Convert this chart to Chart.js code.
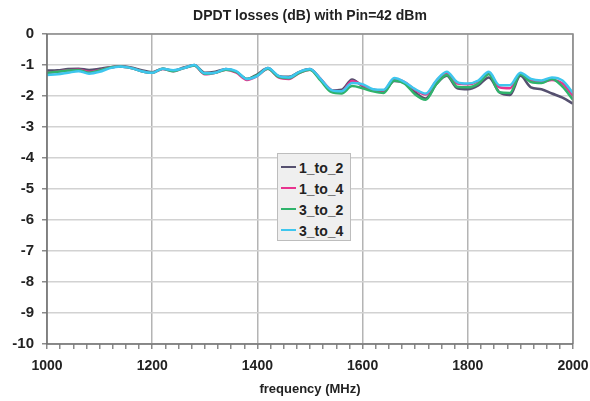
<!DOCTYPE html>
<html>
<head>
<meta charset="utf-8">
<script src="https://cdn.jsdelivr.net/npm/chart.js@4"></script>
<style>
  html, body { margin: 0; padding: 0; background: #fff; }
  #wrap { position: relative; width: 590px; height: 401px; }
  #legend {
    position: absolute; left: 277px; top: 153px; width: 74px; height: 88px;
    background: #efefef; border: 1px solid #bdbdbd; box-sizing: border-box;
    font: bold 14px "Liberation Sans", Arial, sans-serif; color: #222;
    padding-top: 4px;
  }
  #legend div { height: 21px; line-height: 21px; white-space: nowrap; }
  #legend span { display: inline-block; width: 15px; height: 2px; margin: 0 3px 4px 3px; vertical-align: middle; }
</style>
</head>
<body>
<div id="wrap">
  <canvas id="chart" width="590" height="401"></canvas>
  <div id="legend"></div>
</div>
<script>
// frequency points (MHz)
const freqs = [1000,1020,1040,1060,1080,1100,1120,1140,1160,1180,
               1200,1220,1240,1260,1280,1300,1320,1340,1360,1380,
               1400,1420,1440,1460,1480,1500,1520,1540,1560,1580,
               1600,1620,1640,1660,1680,1700,1720,1740,1760,1780,
               1800,1820,1840,1860,1880,1900,1920,1940,1960,1980,2000];

// losses in dB per path
const loss1to2 = [-1.18,-1.17,-1.13,-1.12,-1.16,-1.12,-1.07,-1.04,-1.08,-1.17,
                  -1.23,-1.12,-1.18,-1.08,-1.00,-1.25,-1.22,-1.13,-1.22,-1.45,
                  -1.30,-1.10,-1.35,-1.38,-1.22,-1.13,-1.45,-1.82,-1.80,-1.47,
                  -1.68,-1.80,-1.85,-1.52,-1.58,-1.88,-2.08,-1.62,-1.35,-1.75,
                  -1.78,-1.66,-1.40,-1.88,-1.97,-1.35,-1.72,-1.78,-1.92,-2.05,-2.25];
const loss1to4 = [-1.25,-1.22,-1.17,-1.15,-1.22,-1.17,-1.08,-1.05,-1.10,-1.20,
                  -1.25,-1.13,-1.20,-1.10,-1.02,-1.30,-1.25,-1.15,-1.25,-1.48,
                  -1.35,-1.12,-1.40,-1.45,-1.25,-1.15,-1.45,-1.80,-1.85,-1.52,
                  -1.65,-1.80,-1.82,-1.45,-1.55,-1.80,-1.95,-1.52,-1.25,-1.60,
                  -1.62,-1.52,-1.25,-1.72,-1.75,-1.28,-1.48,-1.55,-1.48,-1.60,-2.00];
const loss3to2 = [-1.25,-1.22,-1.18,-1.17,-1.25,-1.18,-1.08,-1.05,-1.10,-1.20,
                  -1.25,-1.12,-1.20,-1.10,-1.02,-1.28,-1.25,-1.15,-1.22,-1.45,
                  -1.33,-1.12,-1.38,-1.42,-1.25,-1.15,-1.50,-1.87,-1.92,-1.68,
                  -1.75,-1.85,-1.90,-1.50,-1.60,-1.95,-2.12,-1.62,-1.32,-1.70,
                  -1.72,-1.60,-1.30,-1.88,-1.90,-1.30,-1.55,-1.58,-1.45,-1.70,-2.12];
const loss3to4 = [-1.32,-1.30,-1.25,-1.20,-1.28,-1.22,-1.10,-1.05,-1.10,-1.20,
                  -1.25,-1.12,-1.17,-1.10,-1.00,-1.27,-1.25,-1.13,-1.20,-1.45,
                  -1.35,-1.10,-1.35,-1.40,-1.22,-1.13,-1.45,-1.80,-1.85,-1.58,
                  -1.62,-1.78,-1.80,-1.42,-1.55,-1.78,-1.92,-1.50,-1.22,-1.55,
                  -1.60,-1.50,-1.22,-1.65,-1.65,-1.25,-1.45,-1.50,-1.40,-1.50,-1.90];

const seriesNames = ['1_to_2', '1_to_4', '3_to_2', '3_to_4'];
const seriesColors = ['#55506f', '#e8338f', '#2fb36b', '#3ec6ee'];
const seriesData = [loss1to2, loss1to4, loss3to2, loss3to4];
const yTicks = [0,-1,-2,-3,-4,-5,-6,-7,-8,-9,-10];
const xTicks = [1000,1200,1400,1600,1800,2000];

const FONT = '"Liberation Sans", Arial, sans-serif';

const datasets = seriesNames.map((name, i) => ({
    label: name,
    data: freqs.map((f, k) => ({ x: f, y: seriesData[i][k] })),
    borderColor: seriesColors[i],
    borderWidth: 2.5,
    pointRadius: 0,
    cubicInterpolationMode: 'monotone',
    fill: false,
    order: seriesNames.length - i   // 3_to_4 drawn on top
}));

// title drawn above the plot area
const titlePlugin = {
    id: 'plotTitle',
    afterDraw(chart) {
        const ctx = chart.ctx;
        const a = chart.chartArea;
        ctx.save();
        ctx.font = 'bold 14px ' + FONT;
        ctx.fillStyle = '#222';
        ctx.textAlign = 'center';
        ctx.textBaseline = 'middle';
        ctx.fillText('DPDT losses (dB) with Pin=42 dBm', (a.left + a.right) / 2, 16);
        ctx.restore();
    }
};

// frame around the plot
const framePlugin = {
    id: 'frame',
    afterDatasetsDraw(chart) {
        const ctx = chart.ctx;
        const a = chart.chartArea;
        ctx.save();
        ctx.strokeStyle = '#8a8a8a';
        ctx.lineWidth = 1.5;
        ctx.beginPath();
        ctx.moveTo(a.left, a.top);
        ctx.lineTo(a.right, a.top);
        ctx.lineTo(a.right, a.bottom);
        ctx.stroke();
        ctx.strokeStyle = '#6e6e6e';
        ctx.beginPath();
        ctx.moveTo(a.left, a.top);
        ctx.lineTo(a.left, a.bottom);
        ctx.lineTo(a.right, a.bottom);
        ctx.stroke();
        ctx.restore();
    }
};

new Chart(document.getElementById('chart'), {
    type: 'line',
    data: { datasets },
    options: {
        responsive: false,
        animation: false,
        layout: { padding: { top: 34, right: 17, left: 0, bottom: 0 } },
        plugins: {
            legend: { display: false },
            title: { display: false },
            tooltip: { enabled: false }
        },
        scales: {
            x: {
                type: 'linear',
                min: 1000, max: 2000,
                afterFit: s => {
                    s.height = 57;
                    // let the outer labels hang over the padding
                    s.paddingLeft = 0;
                    s.paddingRight = 0;
                },
                afterBuildTicks: s => {
                    const t = [];
                    for (let v = 1000; v <= 2000; v += 25) t.push({ value: v });
                    s.ticks = t;
                },
                ticks: {
                    autoSkip: false,
                    maxRotation: 0,
                    padding: 9,
                    color: '#222',
                    font: { family: FONT, size: 14, weight: 'bold' },
                    callback: v => xTicks.includes(v) ? String(v) : ''
                },
                grid: {
                    color: c => (c.tick && xTicks.includes(c.tick.value)) ? '#b4b4b4' : 'rgba(0,0,0,0)',
                    tickColor: '#8a8a8a',
                    lineWidth: 1.5,
                    tickLength: 5
                },
                border: { display: false },
                title: {
                    display: true,
                    text: 'frequency (MHz)',
                    color: '#222',
                    font: { family: FONT, size: 13, weight: 'bold' },
                    padding: { top: 2, bottom: 4 }
                }
            },
            y: {
                min: -10, max: 0,
                afterFit: s => { s.width = 47; },
                afterBuildTicks: s => { s.ticks = yTicks.map(v => ({ value: v })); },
                ticks: {
                    padding: 8,
                    color: '#222',
                    font: { family: FONT, size: 15, weight: 'bold' }
                },
                grid: {
                    color: '#d2d2d2',
                    tickColor: '#8a8a8a',
                    lineWidth: 1.5,
                    tickLength: 5
                },
                border: { display: false }
            }
        }
    },
    plugins: [titlePlugin, framePlugin]
});

// legend box
const legend = document.getElementById('legend');
seriesNames.forEach((name, i) => {
    const row = document.createElement('div');
    const mark = document.createElement('span');
    mark.style.background = seriesColors[i];
    row.appendChild(mark);
    row.appendChild(document.createTextNode(name));
    legend.appendChild(row);
});
</script>
</body>
</html>
